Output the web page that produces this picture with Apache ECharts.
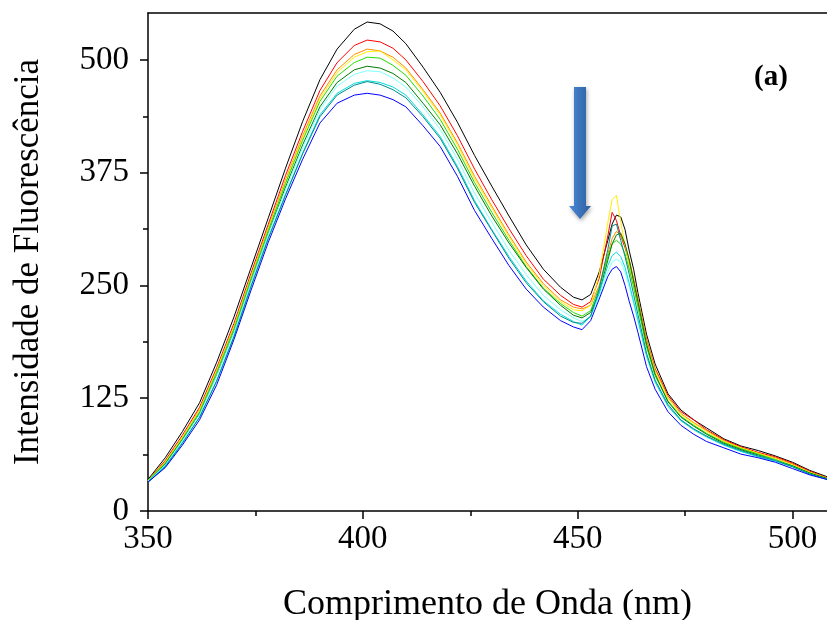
<!DOCTYPE html>
<html>
<head>
<meta charset="utf-8">
<script src="https://cdn.jsdelivr.net/npm/echarts@6/dist/echarts.min.js"></script>
<style>
html,body{margin:0;padding:0;background:#fff;}
#chart{width:827px;height:620px;}
</style>
</head>
<body>
<div id="chart"></div>
<script>
// Wavelengths (nm)
const wavelengths = [350,354,358,362,366,370,374,378,382,386,390,394,398,401,404,407,410,414,418,422,426,430,434,438,442,446,449,451,453,455,457,458,459,460,461,462,463,464,466,468,471,474,477,480,484,488,492,496,500,504,508];

// Fluorescence intensity series
const sBlack     = [35,59,88,120,165,215,270,325,380,432,478,512,534,542,540,532,518,492,464,431,394,360,327,295,268,248,237,234,240,265,300,318,328,326,312,288,268,242,196,163,130,112,101,92,80,72,67,61,54,45,38];
const sRed       = [34,56,84,115,159,208,264,318,372,421,466,497,516,522,520,513,500,476,449,416,379,345,313,283,257,239,229,226,232,258,305,331,322,305,292,275,255,232,190,158,128,110,101,90,79,71,65,60,53,44,37];
const sOrange    = [34,55,82,113,157,205,261,315,367,416,460,489,506,512,510,503,491,467,441,408,371,338,306,276,252,234,226,224,228,250,285,302,310,305,295,278,258,236,190,157,126,108,98,89,78,70,64,59,52,43,37];
const sYellow    = [34,54,82,112,156,204,260,313,365,414,457,486,503,509,510,500,489,465,439,406,368,336,304,274,250,232,223,222,228,262,320,345,350,320,295,272,250,230,186,155,125,107,97,88,77,70,64,58,51,43,36];
const sGreen     = [34,53,80,110,154,202,258,311,363,411,454,482,497,503,502,494,483,460,434,401,364,331,300,271,247,230,220,216,222,248,282,296,300,296,285,268,248,226,182,150,122,105,95,86,76,69,63,57,50,42,36];
const sDarkGreen = [33,52,79,108,151,199,255,308,359,406,448,475,489,493,491,485,475,452,428,396,360,327,297,270,246,228,217,214,220,242,278,296,306,308,296,278,255,232,185,152,121,104,94,85,75,68,62,56,50,42,36];
const sLightCyan = [33,51,78,107,150,198,254,307,356,403,445,471,484,488,487,480,470,448,423,390,352,320,289,262,239,223,214,210,215,238,265,276,279,276,265,248,230,210,172,144,117,101,91,83,73,66,61,56,49,41,35];
const sCyan      = [32,50,76,104,145,194,250,303,351,397,439,463,474,477,475,470,461,439,415,382,344,312,282,255,233,218,210,206,216,242,272,283,287,282,270,252,232,212,172,143,116,100,90,82,73,66,60,55,49,41,35];
const sTeal      = [32,49,75,104,144,193,249,302,350,396,437,461,472,476,473,467,458,437,413,380,342,311,280,253,232,216,209,208,216,246,290,316,318,300,282,262,240,218,175,145,118,101,91,83,74,67,61,56,49,41,35];
const sBlue      = [32,48,73,101,140,190,245,298,346,390,430,452,461,463,461,456,448,427,404,371,333,302,272,246,226,211,204,201,211,235,260,268,271,265,250,232,216,198,160,135,110,95,85,77,70,63,59,54,47,40,35];

// Tick values
const xMajorTicks = [350,400,450,500];
const xMinorTicks = [375,425,475];
const yMajorTicks = [0,125,250,375,500];
const yMinorTicks = [62.5,187.5,312.5,437.5];

const seriesDefs = [
  {name:'s1', data:sBlack,     color:'#000000'},
  {name:'s2', data:sRed,       color:'#ff0000'},
  {name:'s3', data:sOrange,    color:'#ff8c00'},
  {name:'s4', data:sYellow,    color:'#ffee00'},
  {name:'s5', data:sGreen,     color:'#22dd00'},
  {name:'s6', data:sDarkGreen, color:'#007a00'},
  {name:'s7', data:sLightCyan, color:'#80ffff'},
  {name:'s8', data:sCyan,      color:'#00dddd'},
  {name:'s9', data:sTeal,      color:'#008b8b'},
  {name:'s10',data:sBlue,      color:'#0000ff'}
];

const FONT = "'Liberation Serif', 'Times New Roman', serif";
const chart = echarts.init(document.getElementById('chart'), null, {renderer:'canvas'});

const axisLineStyle = {color:'#000', width:1.5};

const option = {
  animation:false,
  backgroundColor:'#fff',
  grid:{left:148, right:0, top:13, bottom:109, containLabel:false, outerBoundsMode:'none'},
  xAxis:[
    {
      type:'value', min:350, max:508, position:'bottom',
      axisLine:{show:true, onZero:false, lineStyle:axisLineStyle},
      axisTick:{show:true, inside:false, length:8, lineStyle:axisLineStyle, customValues:xMajorTicks},
      axisLabel:{show:true, customValues:xMajorTicks, fontSize:33, fontFamily:FONT, color:'#000', margin:12},
      splitLine:{show:false},
      name:'Comprimento de Onda (nm)', nameLocation:'middle', nameGap:76,
      nameTextStyle:{fontSize:36, fontFamily:FONT, color:'#000'}
    },
    {
      type:'value', min:350, max:508, position:'bottom',
      axisLine:{show:false, onZero:false},
      axisTick:{show:true, inside:false, length:5, lineStyle:axisLineStyle, customValues:xMinorTicks},
      axisLabel:{show:false}, splitLine:{show:false}
    },
    {
      type:'value', min:350, max:508, position:'top',
      axisLine:{show:true, onZero:false, lineStyle:axisLineStyle},
      axisTick:{show:false}, axisLabel:{show:false}, splitLine:{show:false}
    }
  ],
  yAxis:[
    {
      type:'value', min:0, max:552, position:'left',
      axisLine:{show:true, onZero:false, lineStyle:axisLineStyle},
      axisTick:{show:true, inside:false, length:8, lineStyle:axisLineStyle, customValues:yMajorTicks},
      axisLabel:{show:true, customValues:yMajorTicks, fontSize:33, fontFamily:FONT, color:'#000', margin:19},
      splitLine:{show:false},
      name:'Intensidade de Fluorescência', nameLocation:'middle', nameGap:102,
      nameTextStyle:{fontSize:35, fontFamily:FONT, color:'#000'}
    },
    {
      type:'value', min:0, max:552, position:'left',
      axisLine:{show:false, onZero:false},
      axisTick:{show:true, inside:false, length:5, lineStyle:axisLineStyle, customValues:yMinorTicks},
      axisLabel:{show:false}, splitLine:{show:false}
    }
  ],
  series: seriesDefs.map(d => ({
    name:d.name, type:'line', xAxisIndex:0, yAxisIndex:0,
    data: wavelengths.map((w,i) => [w, d.data[i]]),
    showSymbol:false, symbol:'none', smooth:false,
    lineStyle:{color:d.color, width:1},
    itemStyle:{color:d.color},
    emphasis:{disabled:true}
  })),
  graphic:[
    {
      type:'polygon',
      shape:{points:[[574,87],[586,87],[586,206],[591,206],[580,219],[569,206],[574,206]]},
      style:{
        fill:new echarts.graphic.LinearGradient(0,0,1,0,[
          {offset:0, color:'#4a88d6'},
          {offset:1, color:'#2c5f9f'}
        ]),
        shadowBlur:4, shadowColor:'rgba(0,0,0,0.35)', shadowOffsetX:1, shadowOffsetY:2
      },
      z:100
    },
    {
      type:'text', left:754, top:63,
      style:{text:'(a)', font:"bold 29px 'Liberation Serif', serif", fill:'#000'},
      z:100
    }
  ]
};
chart.setOption(option);
</script>
</body>
</html>
